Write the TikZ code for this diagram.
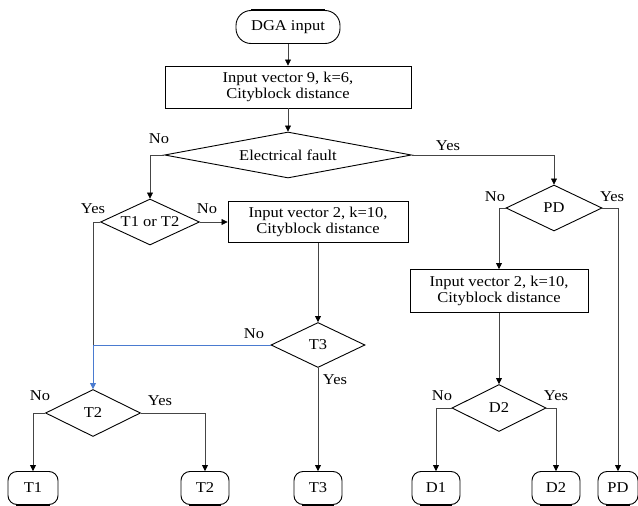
\documentclass[tikz,border=0pt]{standalone}
\usepackage{fontspec}
\setmainfont{Liberation Serif}[FakeStretch=1.1]
\usetikzlibrary{arrows.meta,shapes.geometric}
\definecolor{connc}{HTML}{454545}
\definecolor{bluec}{HTML}{4A7BD0}
\tikzset{
  every node/.style={font=\fontsize{15}{16}\selectfont},
  box/.style={draw=black,line width=0.9pt,rectangle,inner sep=0pt,align=center},
  term/.style={draw=black,line width=0.9pt,rectangle,rounded corners=9pt,inner sep=0pt,minimum height=33pt},
  dia/.style={draw=black,line width=0.9pt,diamond,inner sep=0pt,aspect=4},
  conn/.style={draw=connc,line width=0.7pt},
  arr/.style={-{Triangle[length=6pt,width=6pt,color=black]}},
  lbl/.style={inner sep=0pt},
  thickb/.style={line width=2.2pt,black}
}
\begin{document}
\begin{tikzpicture}[x=1pt,y=-1pt]
\useasboundingbox (0,0) rectangle (638,506);
% nodes
\node[term,rounded corners=15pt,minimum width=104pt] (dga) at (288,27) {DGA input};
\node[box,minimum width=246pt,minimum height=42pt] (box1) at (288,87) {Input vector 9, k=6,\\Cityblock distance};
\node[dia,minimum width=247pt,minimum height=46pt] (ef) at (288,155) {Electrical fault};
\node[dia,minimum width=94pt,minimum height=46pt] (t12) at (150,222) {T1 or T2};
\node[box,minimum width=180pt,minimum height=41pt] (box2) at (318,222) {Input vector 2, k=10,\\Cityblock distance};
\node[dia,minimum width=94pt,minimum height=45pt] (t3) at (318,345) {T3};
\node[dia,minimum width=95pt,minimum height=47pt] (t2) at (93,413) {T2};
\node[dia,minimum width=96pt,minimum height=46pt] (pd) at (554,208) {PD};
\node[box,minimum width=178pt,minimum height=43pt] (box3) at (499,291) {Input vector 2, k=10,\\Cityblock distance};
\node[dia,minimum width=94pt,minimum height=47pt] (d2) at (499,408) {D2};
\node[term,minimum width=50pt] (t1e) at (33,488) {T1};
\node[term,minimum width=48pt] (t2e) at (205,488) {T2};
\node[term,minimum width=48pt] (t3e) at (318,488) {T3};
\node[term,minimum width=48pt] (d1e) at (436,488) {D1};
\node[term,minimum width=48pt] (d2e) at (556,488) {D2};
\node[term,minimum width=40pt] (pde) at (618,488) {PD};
\coordinate (j) at (93,345);
% thick edges
\draw[thickb] ([xshift=15pt]dga.north west) -- ([xshift=-15pt]dga.north east);
\foreach \n in {t1e,t2e,t3e,d1e,d2e,pde}{
  \draw[thickb] ([xshift=8pt]\n.south west) -- ([xshift=-8pt]\n.south east);
}
% connectors
\draw[conn,arr] (dga.south) -- (box1.north);
\draw[conn,arr] (box1.south) -- (ef.north);
\draw[conn,arr] (ef.west) -| (t12.north);
\draw[conn,arr] (ef.east) -| (pd.north);
\draw[conn,arr] (t12.east) -- (box2.west);
\draw[conn] (t12.west) -| (j);
\draw[draw=bluec,line width=0.7pt,-{Triangle[length=6pt,width=6pt]}] (t3.west) -- (j) -- (t2.north);
\draw[conn,arr] (box2.south) -- (t3.north);
\draw[conn,arr] (t3.south) -- (t3e.north);
\draw[conn,arr] (t2.west) -| (t1e.north);
\draw[conn,arr] (t2.east) -| (t2e.north);
\draw[conn,arr] (pd.west) -| (box3.north);
\draw[conn,arr] (pd.east) -| (pde.north);
\draw[conn,arr] (box3.south) -- (d2.north);
\draw[conn,arr] (d2.west) -| (d1e.north);
\draw[conn,arr] (d2.east) -| (d2e.north);
% labels
\node[lbl] (l1) at (159,139) {No};
\node[lbl] (l2) at (448,146) {Yes};
\node[lbl] (l3) at (93,209) {Yes};
\node[lbl] (l4) at (207,209) {No};
\node[lbl] (l5) at (495,197) {No};
\node[lbl] (l6) at (612,197) {Yes};
\node[lbl] (l7) at (254,334) {No};
\node[lbl] (l8) at (335,380) {Yes};
\node[lbl] (l9) at (40,396) {No};
\node[lbl] (l10) at (160,401) {Yes};
\node[lbl] (l11) at (442,396) {No};
\node[lbl] (l12) at (556,396) {Yes};
\end{tikzpicture}
\end{document}
